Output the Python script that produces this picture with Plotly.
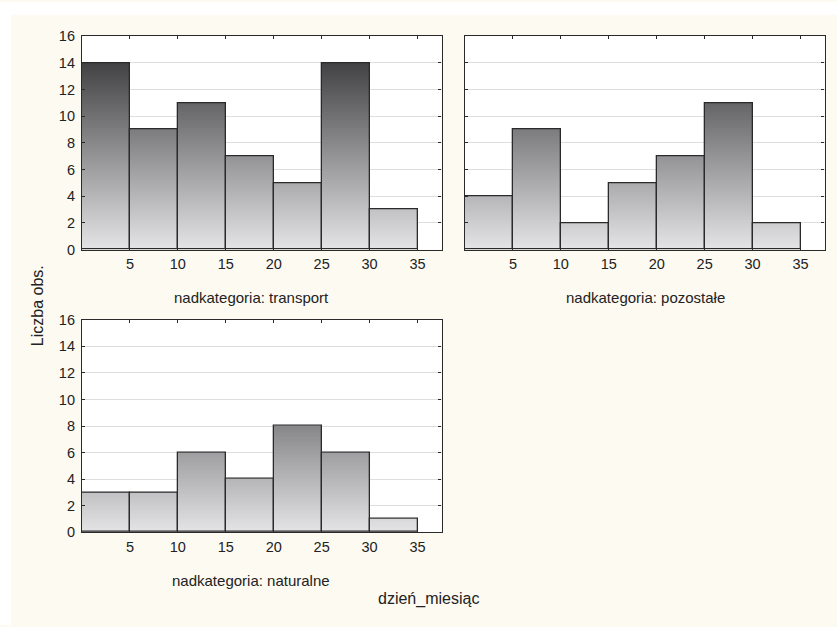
import plotly.graph_objects as go

# ---- data ----
bin_edges = [0, 5, 10, 15, 20, 25, 30, 35]
transport = [14, 9, 11, 7, 5, 14, 3]
pozostale = [4, 9, 2, 5, 7, 11, 2]
naturalne = [3, 3, 6, 4, 8, 6, 1]
x_ticks = [5, 10, 15, 20, 25, 30, 35]
y_ticks = [0, 2, 4, 6, 8, 10, 12, 14, 16]
titles = ["nadkategoria: transport", "nadkategoria: pozostałe", "nadkategoria: naturalne"]

W, H = 837, 627
FONT = "Liberation Sans, Arial, sans-serif"
CREAM = "#fdfaf2"

def px_x(a, b):
    return [a / W, b / W]

def px_y(top, bottom):
    return [1 - bottom / H, 1 - top / H]

panels = [
    dict(vals=transport, xd=px_x(82, 441.5), yd=px_y(29, 248), xa="x", ya="y"),
    dict(vals=pozostale, xd=px_x(465, 824.5), yd=px_y(29, 248), xa="x2", ya="y2"),
    dict(vals=naturalne, xd=px_x(82, 441.5), yd=px_y(320, 538), xa="x3", ya="y3"),
]

def grad_color(v):
    # absolute vertical gradient: light at 0, dark at top
    g = 229 - 11.6 * v
    g = max(40, min(235, g))
    return f"rgb({int(g)},{int(g)},{int(min(255, g + 3))})"

fig = go.Figure()
centers = [(bin_edges[i] + bin_edges[i + 1]) / 2 for i in range(len(bin_edges) - 1)]
widths = [bin_edges[i + 1] - bin_edges[i] for i in range(len(bin_edges) - 1)]
dy = 0.1

for p in panels:
    xs, bases, hs, cols, ws = [], [], [], [], []
    for c, w, v in zip(centers, widths, p["vals"]):
        n = int(round(v / dy))
        for k in range(n):
            b = k * dy
            xs.append(c)
            bases.append(b)
            hs.append(min(dy * 1.6, v - b))
            cols.append(grad_color(b + dy / 2))
            ws.append(w)
    fig.add_trace(go.Bar(x=xs, y=hs, base=bases, width=ws,
                         marker=dict(color=cols, line=dict(width=0)),
                         xaxis=p["xa"], yaxis=p["ya"], showlegend=False,
                         hoverinfo="skip"))
    fig.add_trace(go.Bar(x=centers, y=p["vals"], width=widths,
                         marker=dict(color="rgba(0,0,0,0)",
                                     line=dict(color="#2a2a2a", width=1.3)),
                         xaxis=p["xa"], yaxis=p["ya"], showlegend=False))

axis_common = dict(showline=True, linecolor="#2a2a2a", linewidth=1.2, mirror="ticks",
                   ticks="inside", ticklen=3, tickcolor="#2a2a2a",
                   tickfont=dict(family=FONT, size=14.5, color="#222222"), zeroline=False)

layout = dict(
    width=W, height=H, margin=dict(l=0, r=0, t=0, b=0),
    paper_bgcolor=CREAM, plot_bgcolor="white",
    barmode="overlay", bargap=0, showlegend=False,
    font=dict(family=FONT, size=13, color="#222222"),
)
for i, p in enumerate(panels):
    sfx = "" if i == 0 else str(i + 1)
    layout["xaxis" + sfx] = dict(axis_common, domain=p["xd"], range=[0, 37.5],
                                  tickvals=x_ticks, showgrid=False,
                                  anchor=p["ya"], ticklabelstandoff=1)
    layout["yaxis" + sfx] = dict(axis_common, domain=p["yd"], range=[0, 16],
                                  tickvals=y_ticks, showgrid=True, gridcolor="#dedede",
                                  anchor=p["xa"], ticklabelstandoff=3,
                                  showticklabels=(i != 1))
fig.update_layout(**layout)

# white page edge strips (left and top) outside the cream frame
fig.add_shape(type="rect", xref="paper", yref="paper",
              x0=-0.01, x1=11 / W, y0=-0.01, y1=1.01,
              fillcolor="white", line=dict(width=0), layer="below")
fig.add_shape(type="rect", xref="paper", yref="paper",
              x0=-0.01, x1=1.01, y0=1 - 7 / H, y1=1.01,
              fillcolor="white", line=dict(width=0), layer="below")

ann = [
    (251 / W, 1 - 297 / H, titles[0], 15),
    (645 / W, 1 - 297 / H, titles[1], 15),
    (251 / W, 1 - 587 / H, titles[2], 15),
    (428 / W, 1 - 606 / H, "dzień_miesiąc", 16),
]
for x, y, t, s in ann:
    fig.add_annotation(x=x, y=y, xref="paper", yref="paper", text=t, showarrow=False,
                       xanchor="center", yanchor="middle",
                       font=dict(family=FONT, size=s, color="#222222"))
fig.add_annotation(x=37 / W, y=1 - 306 / H, xref="paper", yref="paper", text="Liczba obs.",
                   showarrow=False, textangle=-90, xanchor="center", yanchor="middle",
                   font=dict(family=FONT, size=16, color="#222222"))

fig.write_html("out.html", config={"displayModeBar": False},
               post_script="document.body.style.margin='0px';"
                           "document.body.style.background='" + CREAM + "';"
                           "document.body.style.overflow='hidden';"
                           "document.documentElement.style.overflow='hidden';")
